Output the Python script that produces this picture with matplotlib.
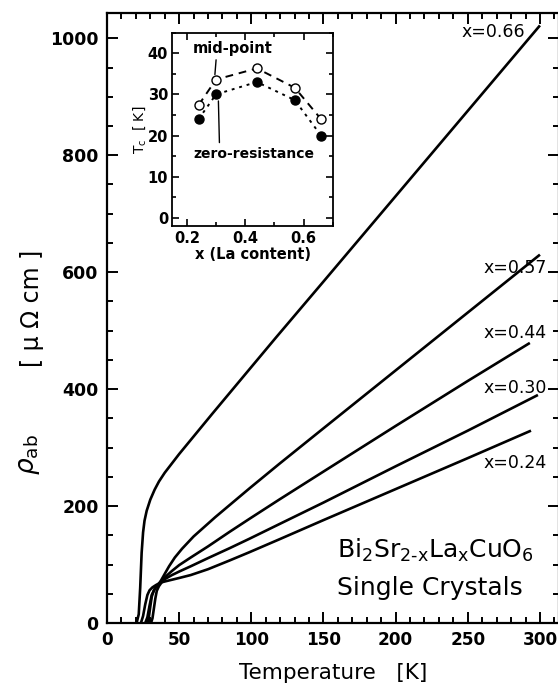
import numpy as np
import matplotlib
matplotlib.use("Agg")
import matplotlib.pyplot as plt
from matplotlib.ticker import MultipleLocator

plt.rcParams['font.family'] = ['DejaVu Sans']
plt.rcParams['mathtext.fontset'] = 'dejavusans'

# rho_ab(T) curves, one per La content
T_066 = [20.5, 22, 23, 24, 25, 26, 27.5, 30, 33, 36, 40, 45, 50, 60, 73, 96, 117, 150, 200, 250, 300]
R_066 = [0, 15, 60, 120, 155, 175, 192, 211, 228, 242, 257, 273, 289, 319, 358, 426, 488, 584, 730, 876, 1022]

T_057 = [26.5, 28, 29.5, 31, 33, 35, 37.5, 40, 43, 47, 52, 60, 75, 98.6, 119.3, 150, 200, 250, 300]
R_057 = [0, 10, 30, 48, 58, 64, 73, 84, 97, 112, 127, 148, 181, 230, 272, 333, 432, 531, 630]

T_044 = [30.5, 31.5, 32.5, 33.5, 34.5, 36, 38, 40, 45, 50, 58, 70, 85, 98.6, 119.3, 150, 200, 250, 293]
R_044 = [0, 8, 25, 42, 55, 63, 70, 78, 89, 99, 112, 131, 156, 178, 211, 259, 337, 414, 479]

T_030 = [28, 29, 30, 31, 32.5, 34, 36.5, 40, 45, 50, 58, 70, 85, 98.6, 119.3, 150, 200, 250, 298.6]
R_030 = [0, 10, 28, 45, 56, 62, 68, 75, 82, 88, 97, 111, 128, 144, 169, 206, 268, 329, 390]

T_024 = [23.5, 25, 26.5, 28, 29.5, 31.5, 34, 37, 40, 45, 50, 58, 70, 85, 98.6, 119.3, 150, 200, 250, 293.8]
R_024 = [0, 12, 32, 48, 56, 61, 65, 69, 71, 74, 77, 82, 92, 107, 121, 143, 176, 229, 282, 329]

curves = [(T_066, R_066), (T_057, R_057), (T_044, R_044), (T_030, R_030), (T_024, R_024)]
curve_labels = ["x=0.66", "x=0.57", "x=0.44", "x=0.30", "x=0.24"]
label_pos = [(290, 1011), (304.5, 607), (304.5, 496), (304.5, 402), (304.5, 274)]

# inset: Tc vs La content
x_la = [0.24, 0.30, 0.44, 0.57, 0.66]
tc_mid = [27.4, 33.6, 36.3, 31.6, 24.0]
tc_zero = [24.0, 30.0, 33.0, 28.6, 20.0]

fig = plt.figure(figsize=(5.58, 6.93), dpi=100)
# right spine sits just past the picture edge, as in the scan
ax = fig.add_axes([107 / 558, 0.101, 452 / 558, 0.880])

for (t, r) in curves:
    ax.plot(t, r, color='black', lw=1.9, solid_capstyle='butt')

for lab, (tx, ty) in zip(curve_labels, label_pos):
    ax.text(tx, ty, lab, ha='right', va='center', fontsize=12.5)

ax.set_xlim(0, 313.2)
ax.set_ylim(0, 1043)
ax.xaxis.set_major_locator(MultipleLocator(50))
ax.xaxis.set_minor_locator(MultipleLocator(10))
ax.yaxis.set_major_locator(MultipleLocator(200))
ax.yaxis.set_minor_locator(MultipleLocator(50))
ax.tick_params(which='both', direction='in', top=True, right=True, width=1.4)
ax.tick_params(which='major', length=8, labelsize=12.5, pad=6)
ax.tick_params(axis='x', which='major', labelsize=12.2)
ax.tick_params(which='minor', length=4)
for lbl in ax.get_xticklabels() + ax.get_yticklabels():
    lbl.set_fontweight('bold')
for s in ax.spines.values():
    s.set_linewidth(1.6)

ax.set_xlabel("Temperature   [K]", fontsize=15.5, labelpad=10)
fig.text(0.052, 1 - 455 / 693, r"$\rho_{\mathregular{ab}}$", rotation=90,
         ha='center', va='center', fontsize=19)
fig.text(0.058, 1 - 308 / 693, "[ μ Ω cm ]", rotation=90,
         ha='center', va='center', fontsize=17)

ax.text(159.5, 111, r"Bi$_{\text{2}}$Sr$_{\text{2-x}}$La$_{\text{x}}$CuO$_{\text{6}}$",
        fontsize=18, ha='left', va='baseline')
ax.text(159.5, 48, "Single Crystals", fontsize=18, ha='left', va='baseline')

# inset
ins = fig.add_axes([0.3088, 0.6734, 0.2875, 0.2797])
ins.plot(x_la, tc_mid, color='black', lw=1.4, ls=(0, (4, 3)))
ins.plot(x_la, tc_zero, color='black', lw=1.4, ls=(0, (1.5, 2.5)))
ins.plot(x_la, tc_mid, 'o', mfc='white', mec='black', ms=6.5, mew=1.0)
ins.plot(x_la, tc_zero, 'o', mfc='black', mec='black', ms=6.5)
ins.set_xlim(0.15, 0.70)
ins.set_ylim(-2, 45)
ins.xaxis.set_major_locator(MultipleLocator(0.2))
ins.xaxis.set_minor_locator(MultipleLocator(0.1))
ins.yaxis.set_major_locator(MultipleLocator(10))
ins.yaxis.set_minor_locator(MultipleLocator(5))
ins.tick_params(which='both', direction='in', top=True, right=True, width=1.2)
ins.tick_params(which='major', length=5, labelsize=10.5, pad=3)
ins.tick_params(which='minor', length=3)
for lbl in ins.get_xticklabels() + ins.get_yticklabels():
    lbl.set_fontweight('bold')
for s in ins.spines.values():
    s.set_linewidth(1.3)
ins.set_xlabel("x (La content)", fontsize=10.5, fontweight='bold', labelpad=1)
ins.set_ylabel(r"T$_{\text{c}}$  [ K]", fontsize=10, labelpad=0)

ins.annotate("mid-point", xy=(0.296, 34.8), xytext=(0.356, 41.2), fontsize=10.5,
             fontweight='bold', ha='center', va='center',
             arrowprops=dict(arrowstyle='-', color='black', lw=1.0, shrinkA=1, shrinkB=0,
                             relpos=(0.3, 0.0)))
ins.annotate("zero-resistance", xy=(0.308, 28.4), xytext=(0.428, 15.6), fontsize=10,
             fontweight='bold', ha='center', va='center',
             arrowprops=dict(arrowstyle='-', color='black', lw=1.0, shrinkA=1, shrinkB=0,
                             relpos=(0.22, 1.0)))

fig.savefig("out.png", dpi=100)
